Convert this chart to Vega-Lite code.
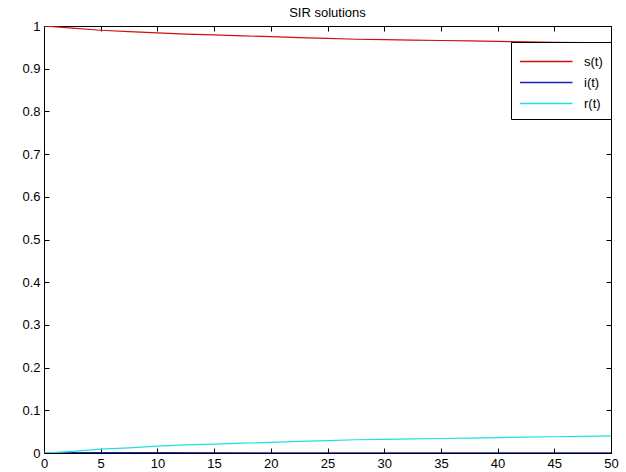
{
  "$schema": "https://vega.github.io/schema/vega-lite/v6.json",
  "autosize": "none",
  "width": 567,
  "height": 427,
  "padding": {"left": 44, "top": 26, "right": 15, "bottom": 19},
  "background": "white",
  "title": {"text": "SIR solutions", "font": "Liberation Sans", "fontSize": 13, "fontWeight": "normal", "color": "black", "offset": 0},
  "config": {
    "view": {"stroke": "black", "strokeWidth": 1},
    "axis": {"grid": false, "domainColor": "black", "tickColor": "black", "labelColor": "black", "labelFont": "Liberation Sans", "labelFontSize": 13, "title": null, "tickSize": -5, "labelPadding": 9}
  },
  "data": {"values": [
    {"t": 0, "series": "s(t)", "v": 1.0}, {"t": 2.5, "series": "s(t)", "v": 0.995}, {"t": 5, "series": "s(t)", "v": 0.99}, {"t": 7.5, "series": "s(t)", "v": 0.987}, {"t": 10, "series": "s(t)", "v": 0.984}, {"t": 12.5, "series": "s(t)", "v": 0.981}, {"t": 15, "series": "s(t)", "v": 0.979}, {"t": 17.5, "series": "s(t)", "v": 0.977}, {"t": 20, "series": "s(t)", "v": 0.975}, {"t": 22.5, "series": "s(t)", "v": 0.973}, {"t": 25, "series": "s(t)", "v": 0.971}, {"t": 27.5, "series": "s(t)", "v": 0.969}, {"t": 30, "series": "s(t)", "v": 0.968}, {"t": 32.5, "series": "s(t)", "v": 0.967}, {"t": 35, "series": "s(t)", "v": 0.966}, {"t": 37.5, "series": "s(t)", "v": 0.965}, {"t": 40, "series": "s(t)", "v": 0.964}, {"t": 42.5, "series": "s(t)", "v": 0.963}, {"t": 45, "series": "s(t)", "v": 0.962}, {"t": 47.5, "series": "s(t)", "v": 0.961}, {"t": 50, "series": "s(t)", "v": 0.96},
    {"t": 0, "series": "i(t)", "v": 0.0}, {"t": 2.5, "series": "i(t)", "v": 0.001}, {"t": 5, "series": "i(t)", "v": 0.001}, {"t": 10, "series": "i(t)", "v": 0.0008}, {"t": 20, "series": "i(t)", "v": 0.0005}, {"t": 30, "series": "i(t)", "v": 0.0003}, {"t": 40, "series": "i(t)", "v": 0.0002}, {"t": 50, "series": "i(t)", "v": 0.0001},
    {"t": 0, "series": "r(t)", "v": 0.0}, {"t": 2.5, "series": "r(t)", "v": 0.004}, {"t": 5, "series": "r(t)", "v": 0.009}, {"t": 7.5, "series": "r(t)", "v": 0.012}, {"t": 10, "series": "r(t)", "v": 0.016}, {"t": 12.5, "series": "r(t)", "v": 0.019}, {"t": 15, "series": "r(t)", "v": 0.021}, {"t": 17.5, "series": "r(t)", "v": 0.023}, {"t": 20, "series": "r(t)", "v": 0.025}, {"t": 22.5, "series": "r(t)", "v": 0.027}, {"t": 25, "series": "r(t)", "v": 0.029}, {"t": 27.5, "series": "r(t)", "v": 0.031}, {"t": 30, "series": "r(t)", "v": 0.032}, {"t": 32.5, "series": "r(t)", "v": 0.033}, {"t": 35, "series": "r(t)", "v": 0.034}, {"t": 37.5, "series": "r(t)", "v": 0.035}, {"t": 40, "series": "r(t)", "v": 0.036}, {"t": 42.5, "series": "r(t)", "v": 0.037}, {"t": 45, "series": "r(t)", "v": 0.038}, {"t": 47.5, "series": "r(t)", "v": 0.039}, {"t": 50, "series": "r(t)", "v": 0.04}
  ]},
  "layer": [
    {
      "mark": {"type": "line", "strokeWidth": 1.2, "clip": true},
      "encoding": {
        "x": {"field": "t", "type": "quantitative", "scale": {"domain": [0, 50], "nice": false}, "axis": {"values": [0,5,10,15,20,25,30,35,40,45,50], "labelFlush": false}},
        "y": {"field": "v", "type": "quantitative", "scale": {"domain": [0, 1], "nice": false}, "axis": {"values": [0,0.1,0.2,0.3,0.4,0.5,0.6,0.7,0.8,0.9,1], "format": "~g", "labelFlush": false}},
        "color": {"field": "series", "type": "nominal", "scale": {"domain": ["s(t)", "i(t)", "r(t)"], "range": ["#d01010", "#2020b8", "#20e0e0"]},
          "legend": {"title": null, "orient": "none", "legendX": 467, "legendY": 16, "symbolType": "M-1,0H4", "symbolSize": 441, "symbolStrokeWidth": 1.6, "symbolOpacity": 1, "labelFont": "Liberation Sans", "labelFontSize": 13, "labelColor": "black", "labelOffset": 42, "strokeColor": "black", "fillColor": "white", "padding": 8, "rowPadding": 2}}
      }
    },
    {
      "mark": {"type": "line", "opacity": 0},
      "encoding": {
        "x": {"field": "t", "type": "quantitative", "scale": {"domain": [0, 50], "nice": false}, "axis": {"orient": "top", "labels": false, "values": [0,5,10,15,20,25,30,35,40,45,50]}},
        "y": {"field": "v", "type": "quantitative", "scale": {"domain": [0, 1], "nice": false}, "axis": {"orient": "right", "labels": false, "values": [0,0.1,0.2,0.3,0.4,0.5,0.6,0.7,0.8,0.9,1]}},
        "detail": {"field": "series"}
      }
    }
  ],
  "resolve": {"axis": {"x": "independent", "y": "independent"}}
}
